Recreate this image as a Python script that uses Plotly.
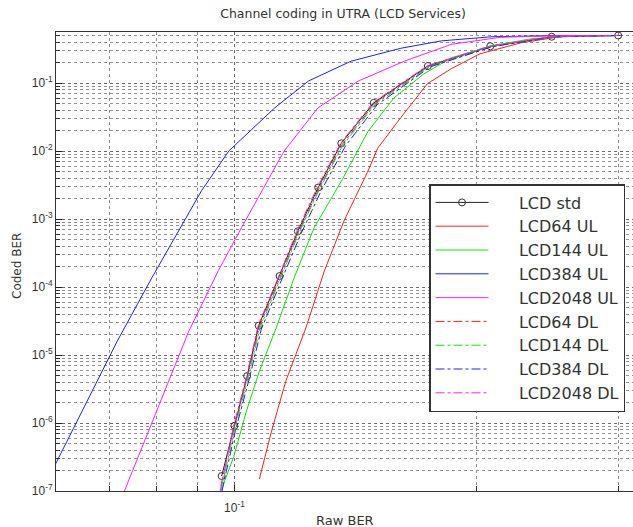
import numpy as np
import plotly.graph_objects as go

# ---------------- data ----------------
std_x = [0.0964, 0.1000, 0.1037, 0.1072, 0.1138, 0.1199, 0.1271, 0.1358, 0.1490, 0.1740, 0.2080, 0.2480, 0.3000]
std_y = [1.66e-7, 9.1e-7, 4.9e-6, 2.7e-5, 1.45e-4, 6.6e-4, 2.9e-3, 1.3e-2, 5.1e-2, 0.178, 0.347, 0.479, 0.5]

ul64_x = [0.1074, 0.1112, 0.1159, 0.1227, 0.1294, 0.1368, 0.1466, 0.1507, 0.1610, 0.1738, 0.1860, 0.2020, 0.2270, 0.2540, 0.2820, 0.3020]
ul64_y = [1.5e-7, 7.6e-7, 4.2e-6, 2.5e-5, 1.74e-4, 9.3e-4, 5.1e-3, 1.1e-2, 3.1e-2, 9.8e-2, 0.162, 0.269, 0.389, 0.479, 0.499, 0.5]

ul144_x = [0.0955, 0.0998, 0.1035, 0.1074, 0.1127, 0.1186, 0.1256, 0.1358, 0.1466, 0.1578, 0.1718, 0.1860, 0.2090, 0.2340, 0.2630, 0.3020]
ul144_y = [7.9e-8, 3.2e-7, 1.5e-6, 5.8e-6, 2.5e-5, 1.35e-4, 7.4e-4, 3.6e-3, 1.95e-2, 6.0e-2, 0.135, 0.234, 0.355, 0.447, 0.49, 0.5]

ul384_x = [0.0596, 0.0646, 0.0715, 0.0789, 0.0867, 0.0910, 0.0984, 0.1122, 0.1236, 0.1396, 0.1610, 0.1810, 0.2090, 0.2510, 0.3020]
ul384_y = [2.2e-7, 1.5e-6, 1.6e-5, 1.35e-4, 9.3e-4, 2.6e-3, 1.0e-2, 4.3e-2, 0.107, 0.209, 0.324, 0.417, 0.479, 0.499, 0.5]

ul2048_x = [0.0724, 0.0800, 0.0877, 0.0955, 0.1020, 0.1153, 0.1270, 0.1426, 0.1626, 0.1860, 0.2140, 0.2570, 0.3020]
ul2048_y = [7.9e-8, 1.5e-6, 2.2e-5, 1.74e-4, 7.4e-4, 1.0e-2, 4.3e-2, 0.107, 0.209, 0.37, 0.47, 0.498, 0.5]

dl64_x = [0.0962, 0.0999, 0.1038, 0.1074, 0.1140, 0.1201, 0.1274, 0.1362, 0.1494, 0.1745, 0.2085, 0.2490, 0.3020]
dl64_y = [1.2e-7, 8.5e-7, 4.8e-6, 2.6e-5, 1.4e-4, 6.4e-4, 2.8e-3, 1.25e-2, 5.0e-2, 0.176, 0.345, 0.478, 0.5]

dl144_x = [0.0963, 0.1001, 0.1040, 0.1076, 0.1142, 0.1203, 0.1276, 0.1364, 0.1497, 0.1748, 0.2090, 0.2495, 0.3020]
dl144_y = [1.1e-7, 8.2e-7, 4.6e-6, 2.5e-5, 1.38e-4, 6.3e-4, 2.75e-3, 1.22e-2, 4.9e-2, 0.174, 0.343, 0.477, 0.5]

dl384_x = [0.0965, 0.1003, 0.1043, 0.1080, 0.1147, 0.1210, 0.1284, 0.1375, 0.1505, 0.1752, 0.2092, 0.2497, 0.3020]
dl384_y = [1.0e-7, 7.8e-7, 4.4e-6, 2.4e-5, 1.35e-4, 6.1e-4, 2.7e-3, 1.2e-2, 4.8e-2, 0.173, 0.342, 0.477, 0.5]

dl2048_x = [0.0960, 0.0997, 0.1036, 0.1071, 0.1137, 0.1197, 0.1269, 0.1356, 0.1488, 0.1738, 0.2078, 0.2478, 0.3020]
dl2048_y = [1.0e-7, 8.8e-7, 5.0e-6, 2.8e-5, 1.5e-4, 6.8e-4, 3.0e-3, 1.32e-2, 5.2e-2, 0.18, 0.349, 0.48, 0.5]

series_names = ["LCD std", "LCD64 UL", "LCD144 UL", "LCD384 UL", "LCD2048 UL",
                "LCD64 DL", "LCD144 DL", "LCD384 DL", "LCD2048 DL"]

x_major_vals = [0.1]
x_major_text = ["10<sup>-1</sup>"]
x_minor_vals = [0.07, 0.08, 0.09, 0.2, 0.3]
y_decades = [-7, -6, -5, -4, -3, -2, -1]

title_text = "Channel coding in UTRA (LCD Services)"
x_title = "Raw BER"
y_title = "Coded BER"

# ---------------- figure ----------------
FONT = "Liberation Sans, Arial, sans-serif"
WIDE = "DejaVu Sans, sans-serif"
PAD = "\u00a0" * 5  # gap between legend sample and label
fig = go.Figure()

fig.add_trace(go.Scatter(x=std_x, y=std_y, name=PAD + series_names[0], mode="lines+markers",
                         line=dict(color="#222222", width=1),
                         marker=dict(symbol="circle-open", size=7, color="#333333", line=dict(width=1))))

ul_sets = [(series_names[1], ul64_x, ul64_y, "#ff2020"),
           (series_names[2], ul144_x, ul144_y, "#10e010"),
           (series_names[3], ul384_x, ul384_y, "#2020ff"),
           (series_names[4], ul2048_x, ul2048_y, "#ff20ff")]
for name, xs, ys, c in ul_sets:
    fig.add_trace(go.Scatter(x=xs, y=ys, name=PAD + name, mode="lines",
                             line=dict(color=c, width=1)))

dl_sets = [(series_names[5], dl64_x, dl64_y, "#ff2020"),
           (series_names[6], dl144_x, dl144_y, "#10e010"),
           (series_names[7], dl384_x, dl384_y, "#2020ff"),
           (series_names[8], dl2048_x, dl2048_y, "#ff20ff")]
for name, xs, ys, c in dl_sets:
    fig.add_trace(go.Scatter(x=xs, y=ys, name=PAD + name, mode="lines",
                             line=dict(color=c, width=1, dash="dashdot")))

y_major_vals = [10.0 ** d for d in y_decades]
y_major_text = [f"10<sup>{d}</sup>" for d in y_decades]
y_minor_vals = []
for d in y_decades:
    for m in range(2, 10):
        v = m * 10.0 ** d
        if v <= 0.56:
            y_minor_vals.append(v)

fig.update_xaxes(type="log", range=[np.log10(0.06), np.log10(0.313)],
                 tickmode="array", tickvals=x_major_vals, ticktext=x_major_text,
                 ticks="inside", ticklen=6, tickcolor="#222", ticklabelstandoff=6,
                 showgrid=True, gridcolor="#6a6a6a", griddash="dot", gridwidth=1,
                 minor=dict(tickmode="array", tickvals=x_minor_vals, ticks="inside", ticklen=5,
                            tickcolor="#333", showgrid=True, gridcolor="#909090", griddash="dot"),
                 showline=True, linecolor="#333", linewidth=1, mirror=True,
                 tickfont=dict(family=FONT, size=12, color="#333"), zeroline=False)
fig.update_yaxes(type="log", range=[-7, -0.25],
                 tickmode="array", tickvals=y_major_vals, ticktext=y_major_text,
                 ticks="inside", ticklen=6, tickcolor="#222",
                 showgrid=True, gridcolor="#6a6a6a", griddash="dot", gridwidth=1,
                 minor=dict(tickmode="array", tickvals=y_minor_vals, ticks="inside", ticklen=4,
                            tickcolor="#333", showgrid=True, gridcolor="#909090", griddash="dot"),
                 showline=True, linecolor="#333", linewidth=1, mirror=True,
                 tickfont=dict(family=FONT, size=12, color="#333"), zeroline=False)

fig.update_layout(
    width=633, height=527,
    margin=dict(l=56, r=0, t=32, b=36),
    paper_bgcolor="white", plot_bgcolor="white",
    font=dict(family=FONT, color="#333"),
    title=dict(text=title_text, x=343 / 633, xref="container", xanchor="center",
               y=1 - 14 / 527, yref="container", yanchor="middle",
               font=dict(family=WIDE, size=12.5, color="#333")),
    legend=dict(x=(429 - 56) / 577, y=(491 - 184) / 459, xanchor="left", yanchor="top",
                bgcolor="white", bordercolor="#333", borderwidth=1.5,
                font=dict(family=WIDE, size=16, color="#333"),
                tracegroupgap=0, itemwidth=53),
    showlegend=True,
    annotations=[
        dict(text=x_title, xref="paper", yref="paper", x=(345 - 56) / 577, y=(491 - 520) / 459,
             showarrow=False, xanchor="center", yanchor="middle",
             font=dict(family=WIDE, size=13, color="#333")),
        dict(text=y_title, xref="paper", yref="paper", x=(17 - 56) / 577, y=(491 - 266) / 459,
             showarrow=False, xanchor="center", yanchor="middle", textangle=-90,
             font=dict(family=WIDE, size=12, color="#333")),
    ],
)

fig.write_html("out.html")
